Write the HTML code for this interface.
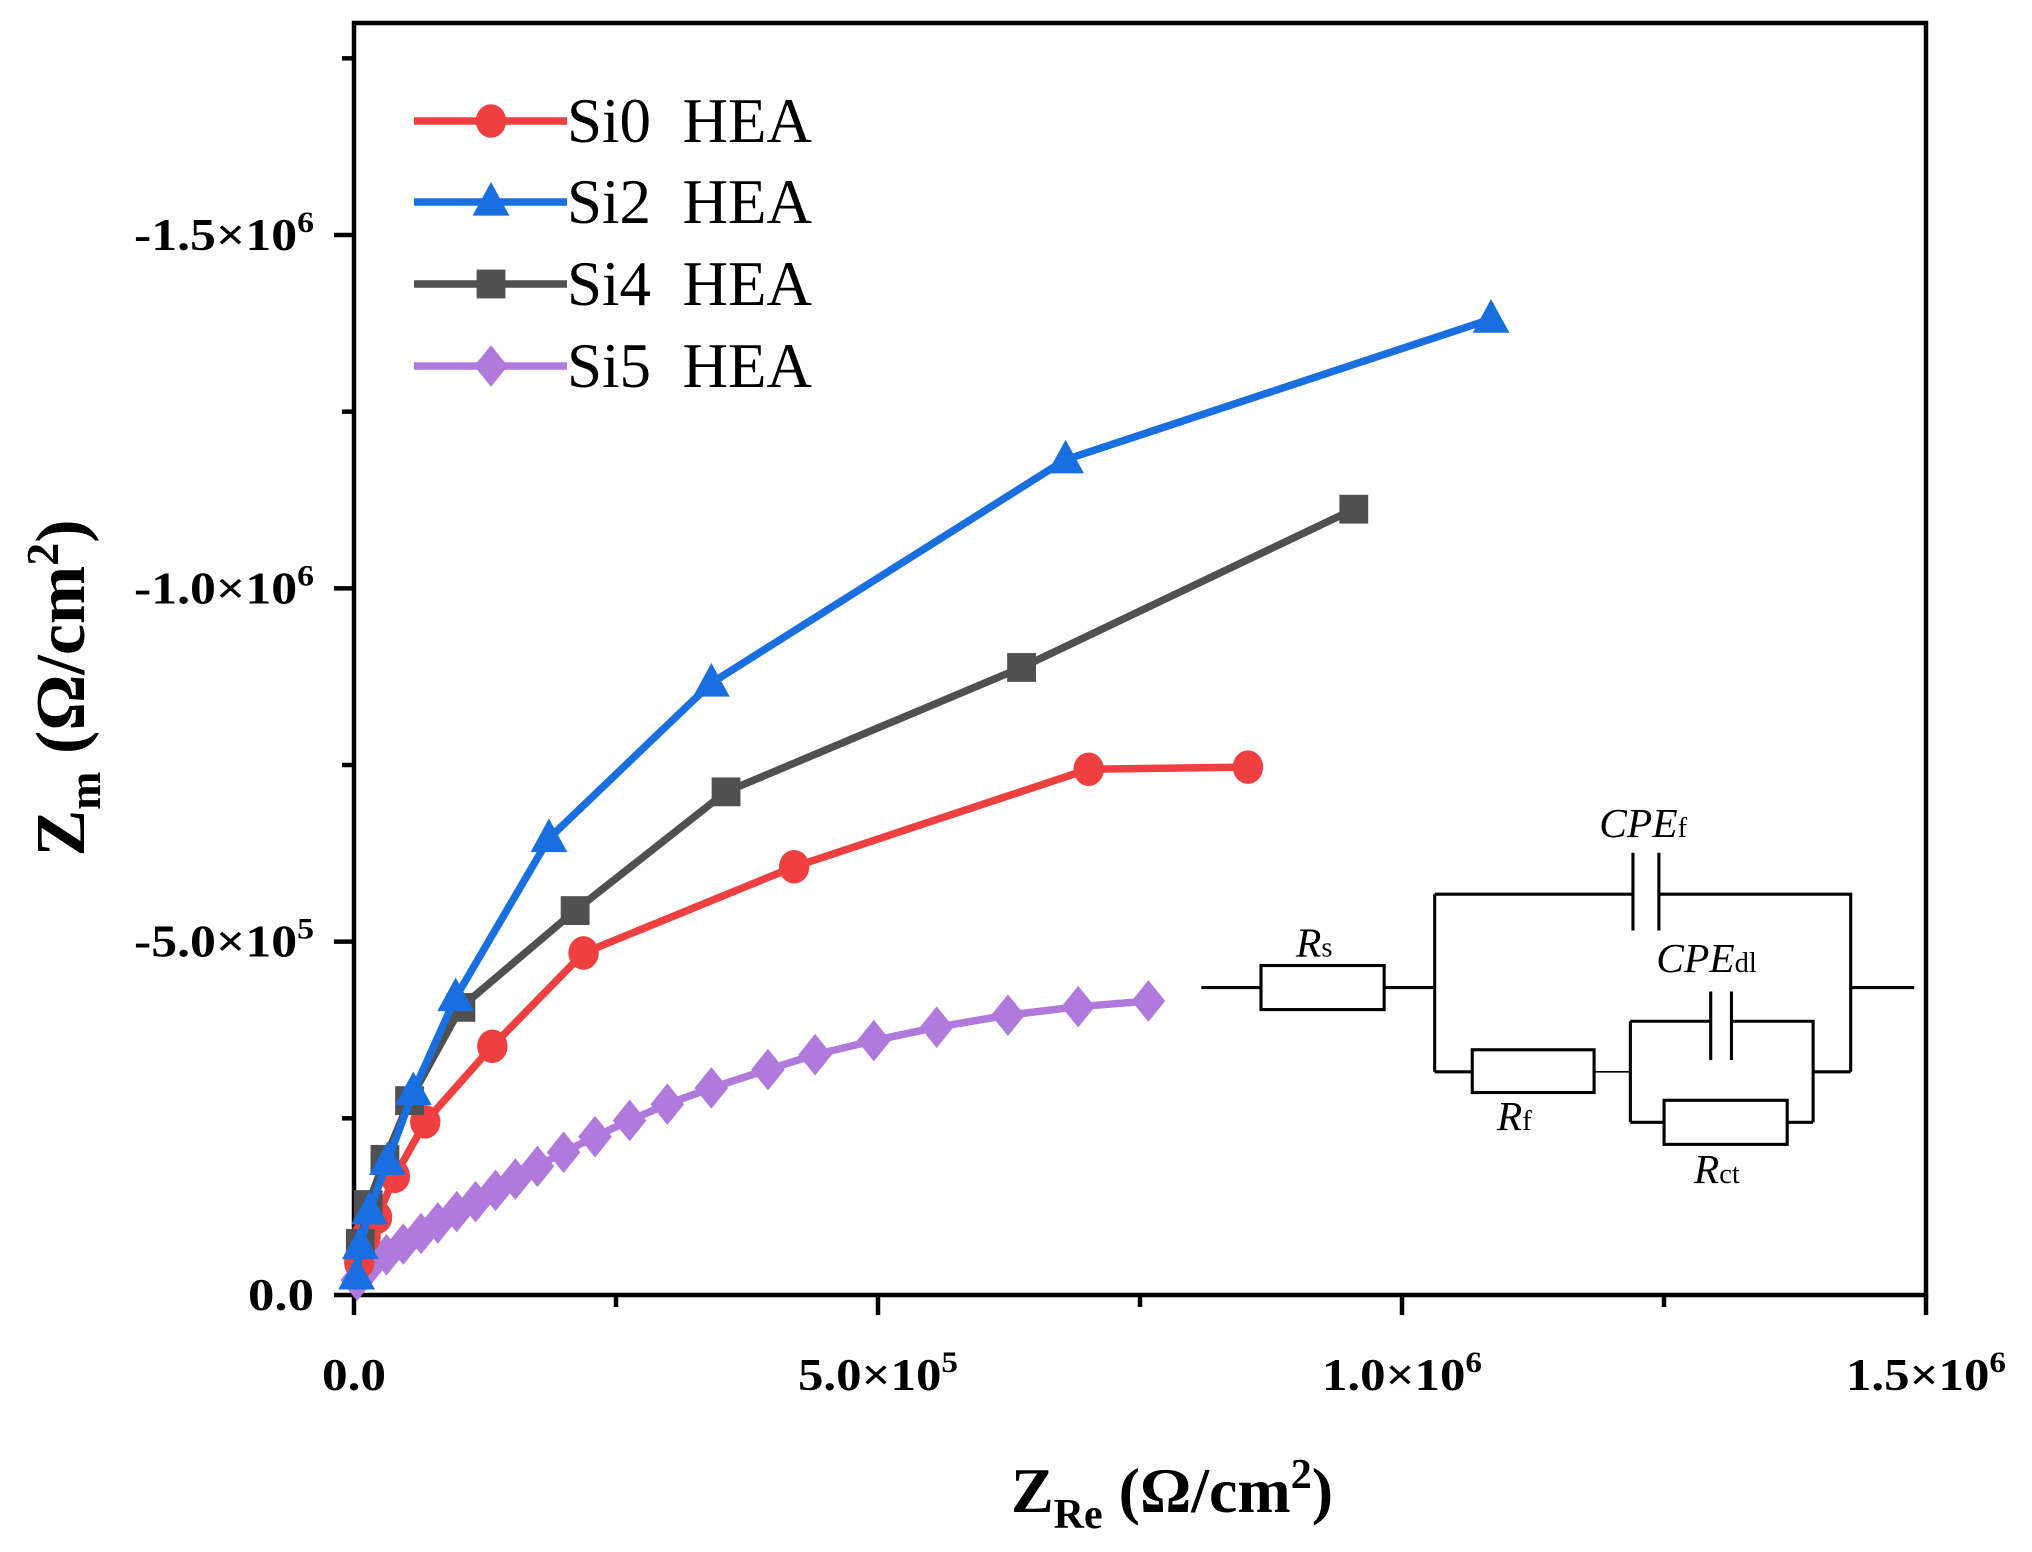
<!DOCTYPE html>
<html><head><meta charset="utf-8"><style>
html,body{margin:0;padding:0;background:#fff;}
svg{display:block;}
.pre{white-space:pre;}
</style></head><body>
<svg id="chart" width="2032" height="1552" viewBox="0 0 2032 1552" xmlns="http://www.w3.org/2000/svg" font-family="'Liberation Serif', serif">
<g id="axes"></g>
<g id="series"></g>
<g id="legend"></g>
<g id="circuit" transform="scale(1.296)" stroke="#000" stroke-width="2.4" fill="none">
  <polyline points="927,762 973,762"/>
  <rect x="973" y="745" width="95" height="34"/>
  <polyline points="1068,762 1107,762"/>
  <polyline points="1107,690 1107,827"/>
  <polyline points="1107,690 1260,690"/>
  <polyline points="1260,658 1260,718"/>
  <polyline points="1280,658 1280,718"/>
  <polyline points="1280,690 1428,690 1428,827"/>
  <polyline points="1428,762 1477,762"/>
  <polyline points="1107,827 1136,827"/>
  <rect x="1136" y="810" width="94" height="33"/>
  <polyline points="1230,827 1258,827" stroke-width="1.2"/>
  <polyline points="1258,788 1258,866"/>
  <polyline points="1258,788 1320,788"/>
  <polyline points="1320,765 1320,818"/>
  <polyline points="1336,765 1336,818"/>
  <polyline points="1336,788 1399,788 1399,866"/>
  <polyline points="1399,827 1428,827"/>
  <polyline points="1258,866 1284,866"/>
  <rect x="1284" y="849" width="95" height="34"/>
  <polyline points="1379,866 1399,866"/>
  <g stroke="none" fill="#000" font-style="italic" font-size="32">
    <text x="1000" y="738">R<tspan font-style="normal" font-size="22">s</tspan></text>
    <text x="1234" y="646">CPE<tspan font-style="normal" font-size="22">f</tspan></text>
    <text x="1278" y="750">CPE<tspan font-style="normal" font-size="22">dl</tspan></text>
    <text x="1155" y="872">R<tspan font-style="normal" font-size="22">f</tspan></text>
    <text x="1307" y="913">R<tspan font-style="normal" font-size="22">ct</tspan></text>
  </g>
</g>
</svg>
<script>
const seriesNames = ["Si0  HEA","Si2  HEA","Si4  HEA","Si5  HEA"];
const si0X = [5e3,11e3,22e3,39e3,68e3,132e3,219e3,420e3,701e3,853e3];
const si0Y = [46e3,82e3,110e3,168e3,245e3,352e3,484e3,606e3,744e3,747e3];
const si2X = [2.5e3,6e3,14.8e3,32e3,56.6e3,97e3,186e3,341e3,679e3,1085e3];
const si2Y = [27e3,70e3,119e3,189e3,288e3,421e3,646e3,866e3,1182e3,1381e3];
const si4X = [6e3,13.5e3,29.5e3,53e3,102e3,211e3,355e3,637e3,954e3];
const si4Y = [73e3,128e3,192e3,275e3,407e3,544e3,712e3,888e3,1112e3];
const si5X = [3e3,14e3,31e3,47e3,64e3,80e3,98e3,116e3,135e3,154e3,175e3,200e3,230e3,263e3,299e3,341e3,395e3,440e3,496e3,556e3,624e3,691e3,758e3];
const si5Y = [21e3,40e3,57e3,72e3,87e3,102e3,118e3,132e3,148e3,164e3,182e3,202e3,224e3,247e3,270e3,293e3,319e3,340e3,360e3,379e3,396e3,408e3,416e3];
const xTickVals = [0,5e5,1e6,1.5e6];
const xTickLabels = ["0.0","5.0×10","1.0×10","1.5×10"];
const xTickExp = ["","5","6","6"];
const yTickVals = [0,5e5,1e6,1.5e6];
const yTickLabels = ["0.0","-5.0×10","-1.0×10","-1.5×10"];
const yTickExp = ["","5","6","6"];

const L=354,R=1926,T=23,B=1295, XMAX=1.5e6, YMAX=1.8e6;
const sx=v=>L+v/XMAX*(R-L);
const sy=v=>B-v/YMAX*(B-T);
const NS="http://www.w3.org/2000/svg";
function mk(tag,attrs,parent){const e=document.createElementNS(NS,tag);for(const k in attrs)e.setAttribute(k,attrs[k]);parent.appendChild(e);return e;}
const axes=document.getElementById('axes');
const frame=mk('rect',{x:L,y:T,width:R-L,height:B-T,fill:'none',stroke:'#000','stroke-width':4.5},axes);


for(let v=0;v<=XMAX+1;v+=2.5e5){
  const major=Math.abs(v/5e5-Math.round(v/5e5))<1e-6;
  const t=mk('line',{x1:sx(v),x2:sx(v),y1:B,y2:B+(major?20:12),stroke:'#000','stroke-width':4.5},axes);
  
  
}
for(let v=0;v<=YMAX+1;v+=2.5e5){
  const major=Math.abs(v/5e5-Math.round(v/5e5))<1e-6;
  const t=mk('line',{x1:L,x2:L-(major?20:12),y1:sy(v),y2:sy(v),stroke:'#000','stroke-width':4.5},axes);
  
  
}
xTickVals.forEach((v,i)=>{
  const w=xTickExp[i]?160:64;
  const t=mk('text',{x:sx(v),y:1390,'text-anchor':'middle','font-size':46,'font-weight':'bold',textLength:w,lengthAdjust:'spacingAndGlyphs'},axes);
  
  
  t.textContent=xTickLabels[i];
  if(xTickExp[i]){const s=mk('tspan',{dy:-18,'font-size':30},t);s.textContent=xTickExp[i];}
});
yTickVals.forEach((v,i)=>{
  const w=yTickExp[i]?180:66;
  const t=mk('text',{x:314,y:sy(v)+15,'text-anchor':'end','font-size':46,'font-weight':'bold',textLength:w,lengthAdjust:'spacingAndGlyphs'},axes);
  
  
  t.textContent=yTickLabels[i];
  if(yTickExp[i]){const s=mk('tspan',{dy:-18,'font-size':30},t);s.textContent=yTickExp[i];}
});
const xt=mk('text',{x:1172,y:1512,'text-anchor':'middle','font-size':64,'font-weight':'bold'},axes);


xt.innerHTML='Z<tspan font-size="42" dy="16">Re</tspan><tspan dy="-16"> (Ω/cm</tspan><tspan font-size="42" dy="-24">2</tspan><tspan dy="24">)</tspan>';
const yt=mk('text',{x:0,y:0,'text-anchor':'middle','font-size':70,'font-weight':'bold',transform:'translate(84,688) rotate(-90)'},axes);


yt.innerHTML='Z<tspan font-size="46" dy="16">m</tspan><tspan dy="-16"> (Ω/cm</tspan><tspan font-size="46" dy="-26">2</tspan><tspan dy="26">)</tspan>';

function marker(g,shape,x,y,color,s){
  let m;
  if(shape==='circle') m=mk('ellipse',{cx:x,cy:y,rx:s*0.95,ry:s*1.05,fill:color},g);
  else if(shape==='tri') m=mk('polygon',{points:`${x},${y-s*1.25} ${x-s*1.15},${y+s*0.85} ${x+s*1.15},${y+s*0.85}`,fill:color},g);
  else if(shape==='square') m=mk('rect',{x:x-s*0.9,y:y-s*0.9,width:s*1.8,height:s*1.8,fill:color},g);
  else m=mk('polygon',{points:`${x},${y-s*1.3} ${x+s*1.05},${y} ${x},${y+s*1.3} ${x-s*1.05},${y}`,fill:color},g);
  
  
}
const seriesDefs=[
  {xs:si5X,ys:si5Y,color:'#b07adc',shape:'diamond',name:'series-si5'},
  {xs:si0X,ys:si0Y,color:'#ee4040',shape:'circle',name:'series-si0'},
  {xs:si4X,ys:si4Y,color:'#505050',shape:'square',name:'series-si4'},
  {xs:si2X,ys:si2Y,color:'#1a6fe0',shape:'tri',name:'series-si2'}
];
const sg=document.getElementById('series');
seriesDefs.forEach(d=>{
  const g=mk('g',{},sg);
  
  
  const pts=d.xs.map((x,i)=>sx(x)+','+sy(d.ys[i])).join(' ');
  const pl=mk('polyline',{points:pts,fill:'none',stroke:d.color,'stroke-width':7.5,'stroke-linejoin':'round'},g);
  
  
  d.xs.forEach((x,i)=>marker(g,d.shape,sx(x),sy(d.ys[i]),d.color,16));
});
const leg=document.getElementById('legend');
const legColors=['#ee4040','#1a6fe0','#505050','#b07adc'];
const legShapes=['circle','tri','square','diamond'];
const legY=[121,202,284,366];
seriesNames.forEach((n,i)=>{
  const g=mk('g',{},leg);
  
  
  mk('line',{x1:414,x2:567,y1:legY[i],y2:legY[i],stroke:legColors[i],'stroke-width':7.5},g);
  marker(g,legShapes[i],491,legY[i],legColors[i],16);
  const t=mk('text',{x:567,y:legY[i]+21,'font-size':63,'class':'pre'},g);
  
  
  t.textContent=n;
});
</script>
</body></html>
